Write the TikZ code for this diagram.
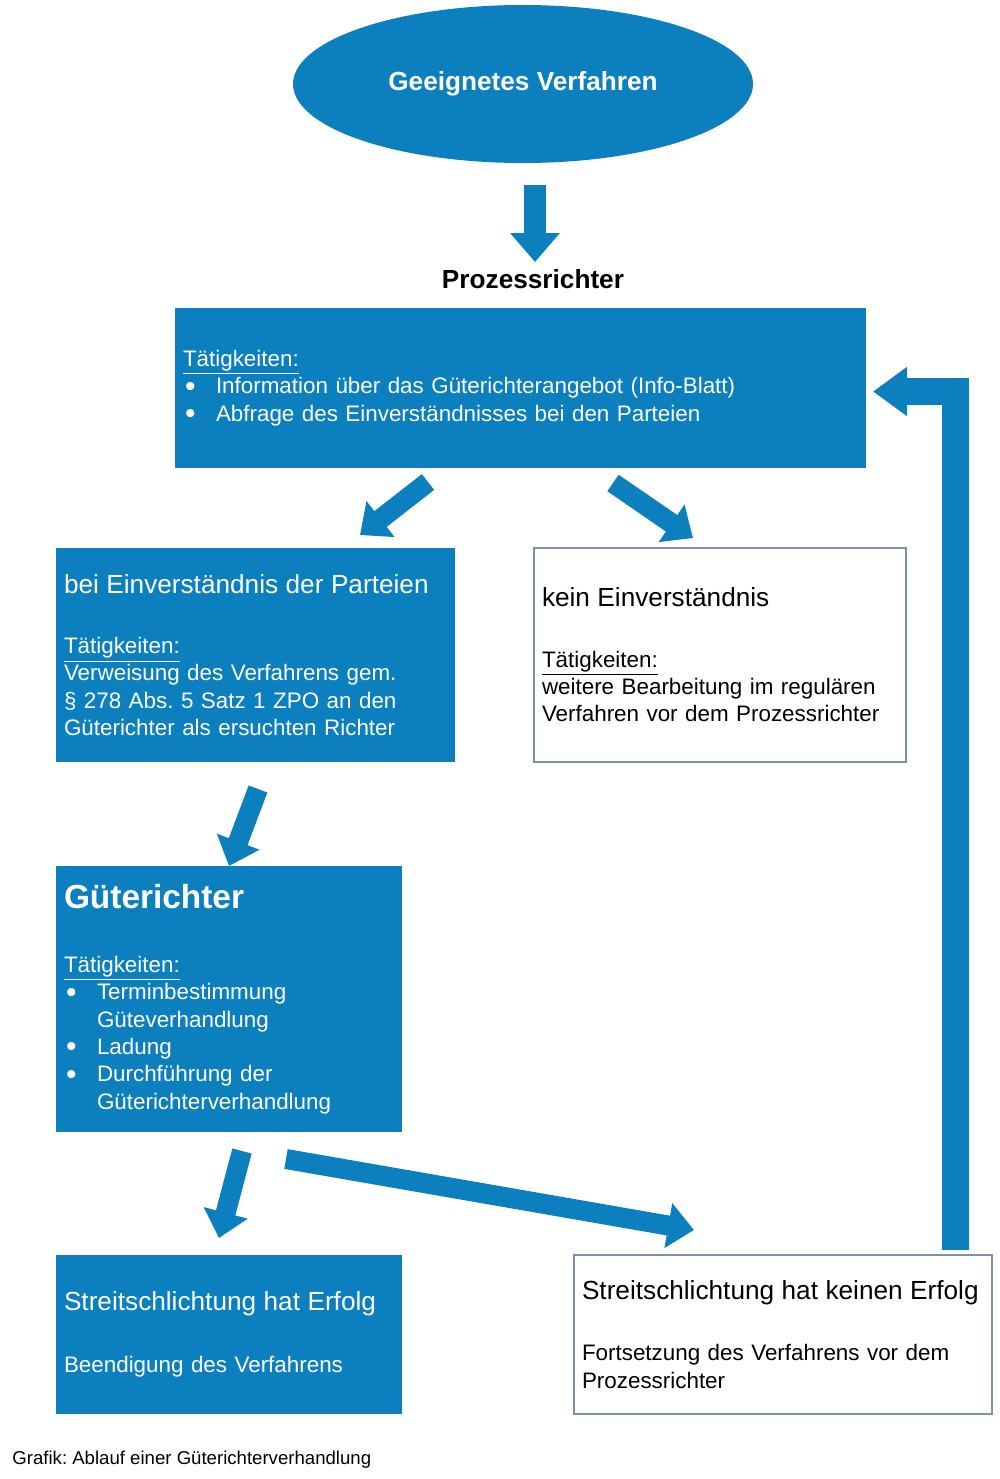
\documentclass[tikz,border=0pt]{standalone}
\usepackage{fontspec}
\setmainfont{Liberation Sans}
\usetikzlibrary{arrows.meta,shapes.geometric}
\frenchspacing

\definecolor{blau}{RGB}{12,127,191}
\definecolor{rahmen}{RGB}{125,145,172}
\newcommand{\txt}{\fontsize{11.2}{13.7}\selectfont}
\newcommand{\ttl}{\fontsize{13.1}{13.7}\selectfont}
\newcommand{\pkt}{\makebox[16.5pt][l]{\hspace{1pt}\raisebox{-1.2pt}{\fontsize{15}{15}\selectfont\textbullet}}}
\newcommand{\einr}{\hspace*{16.5pt}}

\begin{document}
\begin{tikzpicture}[x=0.5pt,y=-0.5pt,
    blaubox/.style={rectangle, fill=blau, text=white, align=left, inner xsep=4pt, inner ysep=0pt, font=\txt},
    weissbox/.style={rectangle, draw=rahmen, line width=0.7pt, fill=white, text=black, align=left, inner xsep=4pt, inner ysep=0pt, font=\txt},
    pfeil/.style={draw=blau, line width=10pt, -{Triangle[width=22pt,length=13pt]}}]

        \useasboundingbox (0,0) rectangle (1000,1479);

        \node[ellipse, fill=blau, minimum width=230pt, minimum height=79pt, inner sep=0pt, text=white, font=\bfseries\ttl] (1) at (523,84) {Geeignetes Verfahren};
        \node[font=\bfseries\ttl] (2) at (533,279) {Prozessrichter};

        \begin{scope}[every node/.style={minimum height=107pt}]
          \node[blaubox, text width=337.5pt, minimum height=80pt] (3) at (520.5,388)
            {\underline{Tätigkeiten:}\\
             \pkt Information über das Güterichterangebot (Info-Blatt)\\
             \pkt Abfrage des Einverständnisses bei den Parteien};
          \node[blaubox, text width=191.5pt] (4) at (255.5,655)
            {{\ttl bei Einverständnis der Parteien}\\[16.5pt]
             \underline{Tätigkeiten:}\\
             Verweisung des Verfahrens gem.\\
             § 278 Abs. 5 Satz 1 ZPO an den\\
             Güterichter als ersuchten Richter};
          \node[weissbox, text width=178pt] (5) at (720,655)
            {{\ttl kein Einverständnis}\\[16.5pt]
             \underline{Tätigkeiten:}\\
             weitere Bearbeitung im regulären\\
             Verfahren vor dem Prozessrichter};
          \node[blaubox, text width=165pt, minimum height=133pt] (6) at (229,999)
            {{\bfseries\fontsize{16.7}{20}\selectfont Güterichter}\\[18.3pt]
             \underline{Tätigkeiten:}\\
             \pkt Terminbestimmung\\
             \einr Güteverhandlung\\
             \pkt Ladung\\
             \pkt Durchführung der\\
             \einr Güterichterverhandlung};
          \node[blaubox, text width=165pt, minimum height=79.5pt] (7) at (229,1334.5)
            {{\ttl Streitschlichtung hat Erfolg}\\[17.3pt]
             Beendigung des Verfahrens};
          \node[weissbox, text width=201pt, minimum height=79.5pt] (8) at (783,1334.5)
            {{\ttl Streitschlichtung hat keinen Erfolg}\\[16.8pt]
             Fortsetzung des Verfahrens vor dem\\
             Prozessrichter};
        \end{scope}

        \node[anchor=west, inner sep=0pt, font=\fontsize{9.3}{11}\selectfont] (9) at (12,1460) {Grafik: Ablauf einer Güterichterverhandlung};

        % ends of the block arrows
        \coordinate (t1) at (535,185);   \coordinate (h1) at (535,262);
        \coordinate (t2) at (428,482);   \coordinate (h2) at (360,535);
        \coordinate (t3) at (613,483);   \coordinate (h3) at (693,538);
        \coordinate (t4) at (258,789);   \coordinate (h4) at (229,866);
        \coordinate (t5) at (242,1151);  \coordinate (h5) at (219,1238);
        \coordinate (t6) at (286,1159);  \coordinate (h6) at (694,1230);
        \coordinate (t7) at (955.5,1250); \coordinate (h7) at (873,391.5);

        \begin{scope}[every edge/.style={pfeil}]
          \path (t1) edge[line width=11pt, -{Triangle[width=24pt,length=14.5pt]}] (h1);
          \path (t2) edge (h2);
          \path (t3) edge (h3);
          \path (t4) edge (h4);
          \path (t5) edge (h5);
          \path (t6) edge (h6);
          \path (t7) edge[line width=13.5pt, -{Triangle[width=23.5pt,length=17pt]}, to path={|- (\tikztotarget)}] (h7);
        \end{scope}

      \end{tikzpicture}
\end{document}
